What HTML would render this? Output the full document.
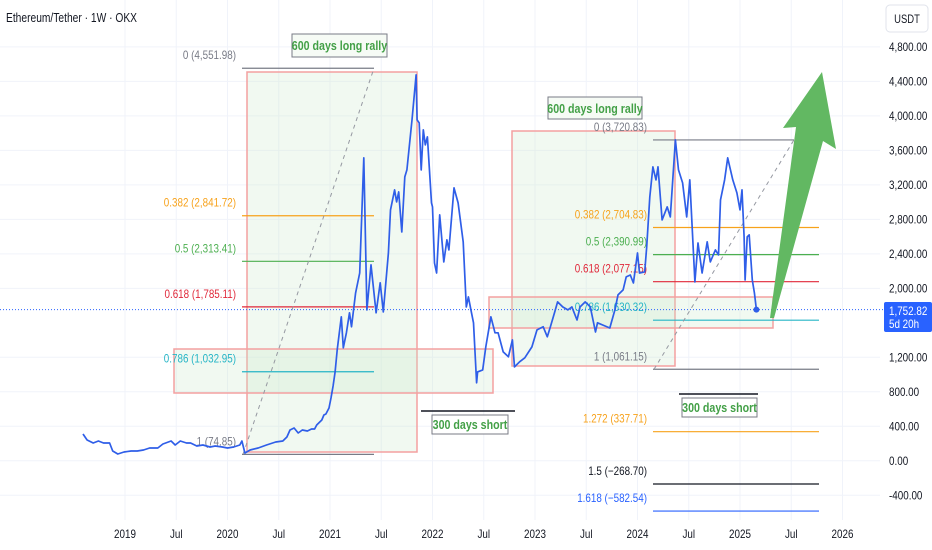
<!DOCTYPE html>
<html><head><meta charset="utf-8"><style>
html,body{margin:0;padding:0;background:#fff;}
svg{display:block;font-family:"Liberation Sans Narrow","Liberation Sans",sans-serif;}
</style></head><body>
<svg id="chart" width="932" height="550" viewBox="0 0 932 550" xmlns="http://www.w3.org/2000/svg">
<g id="grid"></g>
<g id="boxes"></g>
<g id="fibs"></g>
<g id="series"></g>
<g id="notes"></g>
<g id="axes"></g>
</svg>
<script>
const years=[2018.59,2018.63,2018.69,2018.74,2018.79,2018.85,2018.88,2018.93,2018.99,2019.06,2019.12,2019.18,2019.24,2019.32,2019.37,2019.45,2019.49,2019.54,2019.60,2019.64,2019.70,2019.76,2019.83,2019.88,2019.95,2020.00,2020.06,2020.12,2020.14,2020.17,2020.22,2020.30,2020.38,2020.47,2020.54,2020.58,2020.61,2020.65,2020.69,2020.73,2020.78,2020.82,2020.85,2020.87,2020.92,2020.94,2020.96,2020.99,2021.01,2021.03,2021.05,2021.07,2021.11,2021.13,2021.16,2021.19,2021.21,2021.25,2021.29,2021.33,2021.36,2021.40,2021.45,2021.49,2021.52,2021.57,2021.59,2021.63,2021.65,2021.67,2021.70,2021.73,2021.75,2021.80,2021.84,2021.85,2021.87,2021.89,2021.91,2021.93,2021.95,2021.99,2022.00,2022.02,2022.04,2022.07,2022.11,2022.14,2022.16,2022.21,2022.25,2022.30,2022.33,2022.35,2022.38,2022.40,2022.43,2022.44,2022.49,2022.52,2022.57,2022.61,2022.64,2022.69,2022.74,2022.78,2022.80,2022.85,2022.90,2022.97,2023.02,2023.08,2023.12,2023.15,2023.19,2023.22,2023.27,2023.32,2023.36,2023.41,2023.44,2023.49,2023.54,2023.59,2023.61,2023.66,2023.73,2023.78,2023.81,2023.86,2023.89,2023.93,2023.96,2024.00,2024.02,2024.07,2024.09,2024.12,2024.15,2024.18,2024.20,2024.24,2024.29,2024.32,2024.37,2024.40,2024.44,2024.48,2024.51,2024.56,2024.59,2024.63,2024.68,2024.71,2024.76,2024.79,2024.81,2024.85,2024.88,2024.93,2024.97,2025.00,2025.02,2025.04,2025.05,2025.07,2025.09,2025.12,2025.14,2025.16];
const prices=[311,241,206,230,206,206,114,79,102,114,114,125,148,148,195,230,183,230,206,206,172,183,160,172,160,148,160,183,230,90,125,148,183,218,230,276,357,380,322,357,346,369,369,415,473,531,543,612,728,868,1031,1286,1670,1310,1484,1716,1554,1947,2178,3512,1750,2272,1716,2064,1727,2411,2909,3141,3002,3118,2654,3292,3373,3953,4475,3953,3918,3373,3837,3663,3756,2990,2944,2294,2178,2851,2306,2561,2445,3164,2990,2538,1784,1900,1716,1600,904,1031,1054,1321,1670,1484,1484,1263,1206,1402,1089,1148,1194,1321,1518,1554,1438,1554,1716,1842,1784,1750,1784,1633,1784,1842,1784,1494,1600,1575,1540,1750,1924,1982,2132,2155,2062,2410,2178,2190,2480,3060,3408,3257,3408,2793,2944,2828,3721,3373,3222,2828,3257,2074,2526,2178,2538,2306,2445,2387,3025,3257,3512,3257,3106,2909,3141,2596,2097,2596,2619,2097,1947,1752.82];
const yTicks=[4800,4400,4000,3600,3200,2800,2400,2000,1200,800,400,0,-400];
const xTickLabels=["2019","Jul","2020","Jul","2021","Jul","2022","Jul","2023","Jul","2024","Jul","2025","Jul","2026"];
const xTickYears=[2019,2019.5,2020,2020.5,2021,2021.5,2022,2022.5,2023,2023.5,2024,2024.5,2025,2025.5,2026];
const fibRatiosA=[0,0.382,0.5,0.618,0.786,1];
const fibPricesA=[4551.98,2841.72,2313.41,1785.11,1032.95,74.85];
const fibRatiosB=[0,0.382,0.5,0.618,0.786,1,1.272,1.5,1.618];
const fibPricesB=[3720.83,2704.83,2390.99,2077.15,1630.32,1061.15,337.71,-268.70,-582.54];
const lastPrice=1752.82;

const NS="http://www.w3.org/2000/svg";
const X=yr=>125+(yr-2019)*102.5;
const Y=v=>460.8-v*0.08624;
function mk(parent,tag,attrs,text){const e=document.createElementNS(NS,tag);for(const k in attrs)e.setAttribute(k,attrs[k]);if(text!==undefined)e.textContent=text;document.getElementById(parent).appendChild(e);return e;}

xTickYears.forEach((yr,i)=>{
 const l=mk('grid','line',{x1:X(yr),x2:X(yr),y1:0,y2:520,stroke:'#f0f3fa','stroke-width':1});
 
 
 const t=mk('axes','text',{x:X(yr),y:538,'text-anchor':'middle','font-size':12,fill:'#131722'},xTickLabels[i]);
 
 
});
yTicks.forEach(v=>{
 const l=mk('grid','line',{x1:0,x2:880,y1:Y(v),y2:Y(v),stroke:'#f0f3fa','stroke-width':1});
 
 
 const t=mk('axes','text',{x:889,y:Y(v)+4,'font-size':12,fill:'#131722'},v.toLocaleString('en-US',{minimumFractionDigits:2}));
 
 
});

[[247,72,417,452,'rally-box-2020'],[174,349,493,393,'range-box-2021'],[512,131,675,366,'rally-box-2023'],[489,297,773,328,'range-box-2024']].forEach(b=>{
 const r=mk('boxes','rect',{x:b[0],y:b[1],width:b[2]-b[0],height:b[3]-b[1],fill:'rgba(200,230,201,0.25)',stroke:'#f4a0a0','stroke-width':1.5});
 
 
});

const fibColors={0:'#787b86',0.382:'#f7a21b',0.5:'#4caf50',0.618:'#e0283a',0.786:'#26b5c6',1:'#787b86',1.272:'#f7a21b',1.5:'#131722',1.618:'#2962ff'};
function fmt(p){return p.toLocaleString('en-US',{minimumFractionDigits:2,maximumFractionDigits:2}).replace('-','\u2212');}
function fib(ratios,pr,x1,x2,lx,tag){
 ratios.forEach((r,i)=>{
  const y=Y(pr[i]);
  const l=mk('fibs','line',{x1:x1,x2:(r===0&&tag==='b')?794:x2,y1:y,y2:y,stroke:fibColors[r],'stroke-width':1.2});
  
  
  const t=mk('fibs','text',{x:lx,y:y-9,'text-anchor':'end','font-size':12,fill:fibColors[r]},r+' ('+fmt(pr[i])+')');
  
  
 });
 const d=mk('fibs','line',{x1:x1+1,y1:Y(pr[5]),x2:tag==='a'?374:794,y2:Y(pr[0]),stroke:'#9598a1','stroke-width':1,'stroke-dasharray':'4 4'});
 
 
}
fib(fibRatiosA,fibPricesA,242,374,236,'a');
fib(fibRatiosB,fibPricesB,653,819,647,'b');

const pl=mk('series','line',{x1:0,x2:884,y1:Y(lastPrice),y2:Y(lastPrice),stroke:'#2962ff','stroke-width':1,'stroke-dasharray':'1 2'});


const path=mk('series','path',{d:years.map((yr,i)=>(i?'L':'M')+X(yr).toFixed(1)+','+Y(prices[i]).toFixed(1)).join(''),fill:'none',stroke:'#2f5ee8','stroke-width':1.7,'stroke-linejoin':'round'});


const dot=mk('series','circle',{cx:X(years[years.length-1]),cy:Y(prices[prices.length-1]),r:3,fill:'#2f5ee8'});


</script>
<script>
(function(){
const g=document.getElementById('notes');
g.insertAdjacentHTML('beforeend',`
<polygon points="770,318 796,127 783,128 822,72 836,149 823,141 774,318" fill="#62b862"/>
<g><rect x="292" y="34" width="95" height="23" fill="#f6fbf5" stroke="#787b86" stroke-width="1"/><text x="339.5" y="50" text-anchor="middle" font-size="13" font-weight="bold" fill="#43a047">600 days long rally</text></g>
<g><rect x="548" y="97" width="94" height="22" fill="#f6fbf5" stroke="#787b86" stroke-width="1"/><text x="595" y="113" text-anchor="middle" font-size="13" font-weight="bold" fill="#43a047">600 days long rally</text></g>
<line x1="421" y1="411" x2="515" y2="411" stroke="#131722" stroke-width="1.5"/>
<g><rect x="432" y="415" width="76" height="19" fill="#fff" stroke="#787b86"/><text x="470" y="429" text-anchor="middle" font-size="13" font-weight="bold" fill="#43a047">300 days short</text></g>
<line x1="679" y1="394" x2="758" y2="394" stroke="#131722" stroke-width="1.5"/>
<g><rect x="682" y="398" width="75" height="19" fill="#fff" stroke="#787b86"/><text x="719.5" y="412" text-anchor="middle" font-size="13" font-weight="bold" fill="#43a047">300 days short</text></g>
`);
const a=document.getElementById('axes');
a.insertAdjacentHTML('beforeend',`
<text x="6" y="22" font-size="12.5" fill="#131722">Ethereum/Tether · 1W · OKX</text>
<g><rect x="886" y="5" width="42" height="27" rx="4" fill="#fff" stroke="#e0e3eb"/><text x="907" y="23" text-anchor="middle" font-size="11.5" fill="#131722">USDT</text></g>
<g><rect x="884" y="302" width="48" height="30" rx="2" fill="#2962ff"/><text x="889" y="315" font-size="12" fill="#fff">1,752.82</text><text x="889" y="328" font-size="12" fill="#fff">5d 20h</text></g>
`);
document.querySelectorAll('svg text').forEach(t=>{
 const w=t.getComputedTextLength();
 if(w>0){t.setAttribute('textLength',(w*0.82).toFixed(1));t.setAttribute('lengthAdjust','spacingAndGlyphs');}
});
})();
</script>
</body></html>
